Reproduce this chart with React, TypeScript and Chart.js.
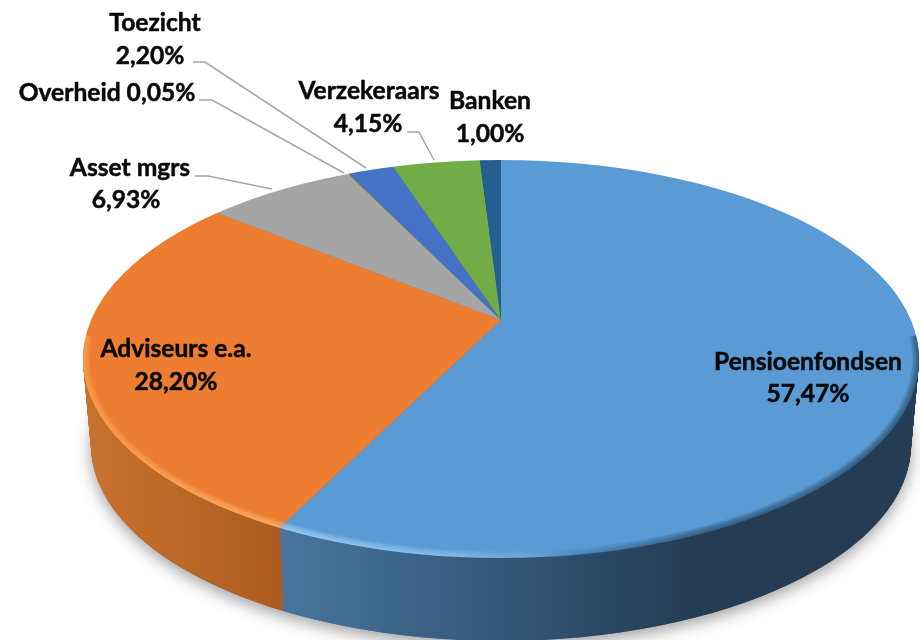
import React, { useEffect, useRef } from "react";
import { Chart, registerables } from "chart.js";

Chart.register(...registerables);

const categories = ["Pensioenfondsen", "Adviseurs e.a.", "Asset mgrs", "Overheid", "Toezicht", "Verzekeraars", "Banken"];
const values = [57.47, 28.2, 6.93, 0.05, 2.2, 4.15, 1.0];
const colors = ["#5b9bd5", "#ed7d31", "#a5a5a5", "#ffc000", "#4472c4", "#70ad47", "#255e91"];
const sideStops = [
  [285, "#47759f", 690, "#243d54"],
  [85, "#c8722e", 285, "#ad5b20"],
  [0, "#7c7c7c", 920, "#7c7c7c"],
  [0, "#bf9000", 920, "#bf9000"],
  [0, "#335593", 920, "#335593"],
  [0, "#548235", 920, "#548235"],
  [0, "#1c4570", 920, "#1c4570"],
];

// label layout: [name x, name y, value x, value y]; a single-line label has value x = null
const labelLayout: (number | null)[][] = [
  [808, 362, 808, 394],
  [176, 349, 176, 382],
  [130, 168, 126, 200],
  [107, 93, null, null],
  [155, 23, 150, 56],
  [369, 91, 368, 124],
  [490, 101, 490, 134],
];
const leaderLines: (number[][] | null)[] = [
  null,
  null,
  [[195, 176], [208, 176], [272, 189]],
  [[199, 100], [212, 100], [344, 173]],
  [[193, 62], [205, 62], [366, 168]],
  [[407, 132], [419, 132], [434, 160]],
  null,
];

const APEX_X = 501;
const APEX_Y = 320;
const TOP_RX = 418;
const TOP_RY = 199;
const TOP_CY = 359;
const DEPTH = 86;

const fmt = (v: number) => v.toFixed(2).replace(".", ",");

const pie3d = {
  id: "pie3d",
  beforeDatasetsDraw(chart: any) {
    const { ctx } = chart;
    const arcs = chart.getDatasetMeta(0).data;
    const R = arcs[0].outerRadius;
    const ox = arcs[0].x;
    const oy = arcs[0].y;

    const drawLayer = (dy: number, rx: number, ry: number, cy: number, side: boolean) => {
      ctx.save();
      ctx.beginPath();
      ctx.ellipse(APEX_X, cy, rx, ry, 0, 0, Math.PI * 2);
      ctx.clip();
      const sx = ((512 / R) * rx) / TOP_RX;
      ctx.translate(APEX_X, APEX_Y + dy);
      ctx.scale(sx, sx / 2.1);
      ctx.translate(-ox, -oy);
      arcs.forEach((a: any, i: number) => {
        const saved = a.options;
        if (side) {
          const s = sideStops[i] as any[];
          const x0 = (s[0] - APEX_X) / sx + ox;
          const x1 = (s[2] - APEX_X) / sx + ox;
          const g = ctx.createLinearGradient(x0, 0, x1, 0);
          g.addColorStop(0, s[1]);
          g.addColorStop(1, s[3]);
          a.options = Object.assign(Object.create(saved), { backgroundColor: g });
        }
        a.draw(ctx);
        a.options = saved;
      });
      ctx.restore();
    };

    // soft ground shadow
    ctx.save();
    ctx.shadowColor = "rgba(0,0,0,0.38)";
    ctx.shadowBlur = 16;
    ctx.shadowOffsetY = 5;
    ctx.fillStyle = "#777";
    ctx.beginPath();
    ctx.ellipse(APEX_X, TOP_CY + DEPTH, TOP_RX - 8, TOP_RY - 3, 0, 0, Math.PI * 2);
    ctx.fill();
    ctx.restore();

    // extruded side, from the bottom edge up
    for (let d = DEPTH; d >= 1; d--) {
      const t = d / DEPTH;
      drawLayer(d, TOP_RX - 8 * t, TOP_RY - 3 * t, TOP_CY + d, true);
    }
    // top face
    drawLayer(0, TOP_RX, TOP_RY, TOP_CY, false);

    // bevel along the front rim of the top face
    ctx.save();
    ctx.beginPath();
    ctx.ellipse(APEX_X, TOP_CY, TOP_RX, TOP_RY, 0, 0, Math.PI * 2);
    ctx.clip();
    const light = ctx.createLinearGradient(83, 0, 560, 0);
    light.addColorStop(0, "rgba(255,170,90,0.13)");
    light.addColorStop(0.4, "rgba(255,190,120,0.15)");
    light.addColorStop(0.43, "rgba(170,220,255,0.15)");
    light.addColorStop(0.8, "rgba(170,220,255,0.08)");
    light.addColorStop(1, "rgba(170,220,255,0)");
    const dark = ctx.createLinearGradient(540, 0, 700, 0);
    dark.addColorStop(0, "rgba(30,60,85,0)");
    dark.addColorStop(1, "rgba(30,60,85,0.13)");
    for (let w = 2; w <= 14; w += 2) {
      [light, dark].forEach((st) => {
        ctx.strokeStyle = st;
        ctx.lineWidth = w;
        ctx.beginPath();
        ctx.ellipse(APEX_X, TOP_CY, TOP_RX, TOP_RY, 0, -0.12, Math.PI + 0.12);
        ctx.stroke();
      });
    }
    ctx.restore();
    return false;
  },
  afterDraw(chart: any) {
    const { ctx } = chart;
    ctx.save();
    ctx.strokeStyle = "#a6a6a6";
    ctx.lineWidth = 1.5;
    leaderLines.forEach((line) => {
      if (!line) return;
      ctx.beginPath();
      line.forEach((p, j) => (j ? ctx.lineTo(p[0], p[1]) : ctx.moveTo(p[0], p[1])));
      ctx.stroke();
    });
    ctx.fillStyle = "#0a0a0a";
    ctx.strokeStyle = "#0a0a0a";
    ctx.lineWidth = 0.5;
    ctx.font = "bold 24.6px Lato";
    ctx.textAlign = "center";
    ctx.textBaseline = "middle";
    const put = (t: string, x: number, y: number) => {
      ctx.fillText(t, x, y);
      ctx.strokeText(t, x, y);
    };
    categories.forEach((c, i) => {
      const [nx, ny, vx, vy] = labelLayout[i];
      if (vx === null) {
        put(`${c} ${fmt(values[i])}%`, nx, ny);
      } else {
        put(c, nx, ny);
        put(`${fmt(values[i])}%`, vx, vy);
      }
    });
    ctx.restore();
  },
};

export default function App() {
  const ref = useRef<HTMLCanvasElement>(null);
  useEffect(() => {
    document.body.style.margin = "0";
    const chart = new Chart(ref.current!, {
      type: "pie",
      data: {
        labels: categories,
        datasets: [{ data: values, backgroundColor: colors, borderWidth: 0 }],
      },
      options: {
        responsive: false,
        animation: false,
        layout: { padding: 0 },
        plugins: { legend: { display: false }, tooltip: { enabled: false } },
      },
      plugins: [pie3d],
    } as any);
    return () => chart.destroy();
  }, []);
  return <canvas ref={ref} width={920} height={640} style={{ display: "block" }} />;
}
